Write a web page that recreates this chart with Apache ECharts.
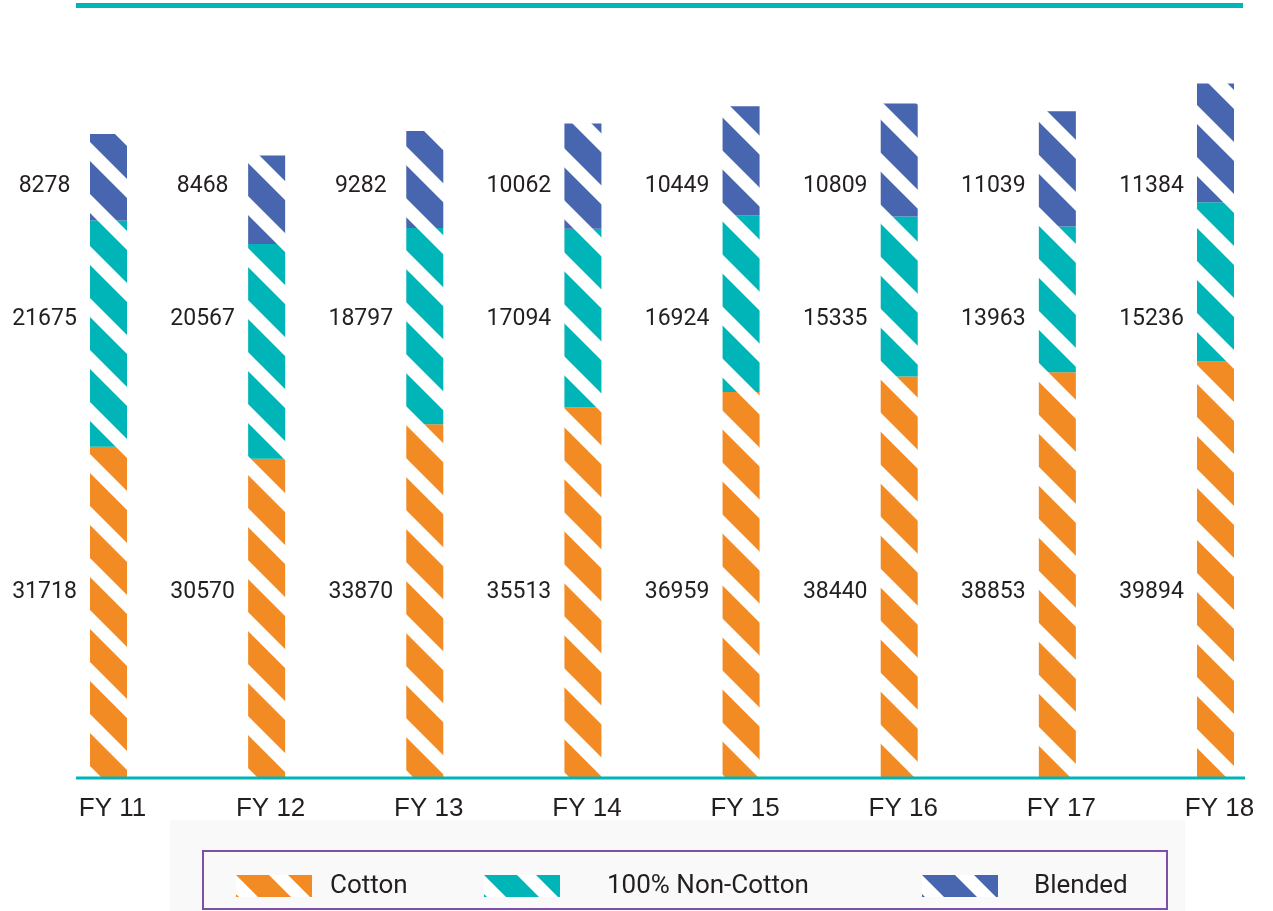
<!DOCTYPE html>
<html>
<head>
<meta charset="utf-8">
<script src="https://cdn.jsdelivr.net/npm/echarts@6/dist/echarts.min.js"></script>
<style>
  html, body { margin: 0; padding: 0; background: #ffffff; }
  #chart { width: 1273px; height: 911px; }
</style>
</head>
<body>
<div id="chart"></div>
<script>
// Fabric production by type, FY 11 - FY 18
const years = ['FY 11', 'FY 12', 'FY 13', 'FY 14', 'FY 15', 'FY 16', 'FY 17', 'FY 18'];
const cotton = [31718, 30570, 33870, 35513, 36959, 38440, 38853, 39894];
const nonCotton = [21675, 20567, 18797, 17094, 16924, 15335, 13963, 15236];
const blended = [8278, 8468, 9282, 10062, 10449, 10809, 11039, 11384];
const seriesNames = ['Cotton', '100% Non-Cotton', 'Blended'];

const COLORS = { cotton: '#f38b24', nonCotton: '#00b5b8', blended: '#4866b0' };
const TEXT = '#231f20';

// Diagonal white stripes over a solid fill, tiled seamlessly
function stripes(color) {
  const s = 52, w = 19;
  const c = document.createElement('canvas');
  c.width = s; c.height = s;
  const g = c.getContext('2d');
  g.fillStyle = color;
  g.fillRect(0, 0, s, s);
  g.fillStyle = '#ffffff';
  for (let k = -1; k <= 1; k++) {
    g.beginPath();
    g.moveTo(0, k * s);
    g.lineTo(s, k * s + s);
    g.lineTo(s, k * s + s + w);
    g.lineTo(0, k * s + w);
    g.closePath();
    g.fill();
  }
  return { image: c, repeat: 'repeat' };
}

// Value labels sit in three rows to the left of each column
const labelRows = [
  { values: cotton, level: 17800 },
  { values: nonCotton, level: 43950 },
  { values: blended, level: 56680 }
];

function barSeries(name, values, color) {
  return {
    name: name,
    type: 'bar',
    stack: 'total',
    barWidth: 37,
    data: values,
    itemStyle: { color: stripes(color) },
    emphasis: { disabled: true },
    animation: false
  };
}

function labelSeries(row) {
  return {
    type: 'scatter',
    symbolSize: 0,
    silent: true,
    animation: false,
    itemStyle: { color: 'transparent', opacity: 1 },
    data: row.values.map((v, i) => [i, row.level]),
    label: {
      show: true,
      position: 'inside',
      offset: [-64, 0],
      formatter: p => String(row.values[p.dataIndex]),
      fontFamily: 'Roboto',
      fontSize: 23,
      color: TEXT,
      textBorderWidth: 0,
      textBorderColor: 'transparent'
    }
  };
}

function legendItem(name, left, gap) {
  return {
    data: [name],
    left: left,
    top: 873,
    padding: 0,
    icon: 'rect',
    itemWidth: 76,
    itemHeight: 22,
    selectedMode: false,
    textStyle: {
      fontFamily: 'Roboto',
      fontSize: 26,
      color: TEXT,
      padding: [0, 0, 0, gap - 5]
    }
  };
}

const chart = echarts.init(document.getElementById('chart'), null, { renderer: 'canvas' });

chart.setOption({
  backgroundColor: '#ffffff',
  animation: false,
  grid: { left: 108.5, right: 57.5, top: 47, bottom: 133 },
  xAxis: {
    type: 'category',
    data: years,
    boundaryGap: false,
    axisLine: { show: false },
    axisTick: { show: false },
    splitLine: { show: false },
    axisLabel: {
      margin: 18,
      fontFamily: 'Liberation Sans',
      fontSize: 26,
      color: TEXT,
      padding: [0, 0, 0, 8]
    }
  },
  yAxis: {
    type: 'value',
    min: 0,
    max: 70000,
    show: false,
    splitLine: { show: false }
  },
  legend: [
    legendItem(seriesNames[0], 236, 18),
    legendItem(seriesNames[1], 484, 47),
    legendItem(seriesNames[2], 922, 36)
  ],
  graphic: [
    // top rule
    { type: 'rect', shape: { x: 76, y: 3, width: 1167, height: 5 }, style: { fill: '#00b5b8' }, silent: true },
    // baseline
    { type: 'rect', z: 10, shape: { x: 76, y: 776.5, width: 1169, height: 3 }, style: { fill: '#00b5b8' }, silent: true },
    // legend panel
    { type: 'rect', z: -5, shape: { x: 170, y: 820, width: 1015, height: 91 }, style: { fill: '#f9f9f9' }, silent: true },
    { type: 'rect', z: -4, shape: { x: 203, y: 851, width: 964, height: 58 }, style: { fill: 'none', stroke: '#7d50a5', lineWidth: 2 }, silent: true }
  ],
  series: [
    barSeries(seriesNames[0], cotton, COLORS.cotton),
    barSeries(seriesNames[1], nonCotton, COLORS.nonCotton),
    barSeries(seriesNames[2], blended, COLORS.blended),
    ...labelRows.map(labelSeries)
  ]
});
</script>
</body>
</html>
